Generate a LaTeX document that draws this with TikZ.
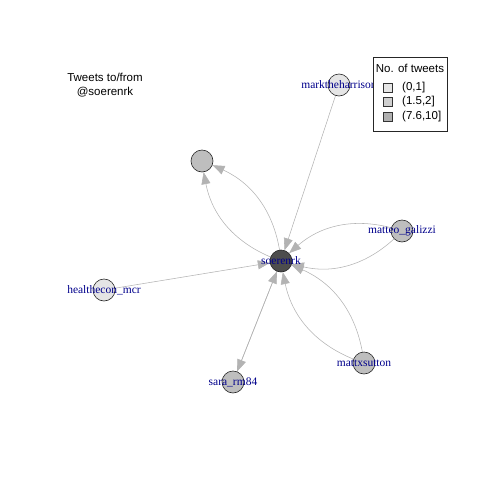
\documentclass[tikz,border=0pt]{standalone}
\usepackage{fontspec}
\setmainfont{Liberation Serif}
\newfontfamily\arialfont{Liberation Sans}
\usetikzlibrary{arrows.meta}
\pgfdeclarelayer{background}
\pgfsetlayers{background,main}
\definecolor{nlight}{HTML}{E5E5E5}
\definecolor{nmid}{HTML}{BEBEBE}
\definecolor{ndark}{HTML}{4D4D4D}
\definecolor{edgegray}{HTML}{B3B3B3}
\definecolor{lbl}{HTML}{00008B}
\definecolor{lg1}{HTML}{E6E6E6}
\definecolor{lg2}{HTML}{CFCFCF}
\definecolor{lg3}{HTML}{B0B0B0}
\tikzset{
  vtx/.style={circle,draw=black!85,line width=0.6pt,minimum size=22pt,inner sep=0pt},
  vlabel/.style={text=lbl,font=\fontsize{11.5}{12}\selectfont,inner sep=0pt},
  edg/.style={draw=edgegray,line width=0.55pt,-{Triangle[length=12pt,width=9pt,fill=edgegray]}},
  sans/.style={font=\arialfont\fontsize{11.5}{12}\selectfont,inner sep=0pt},
  lgsq/.style={draw=black!80,line width=0.7pt,minimum size=8.5pt,inner sep=0pt},
}
\begin{document}
\begin{tikzpicture}[x=1pt,y=-1pt]
\useasboundingbox (0,0) rectangle (480,480);
% vertices
\node[vtx,fill=ndark] (s) at (281,261) {};
\node[vtx,fill=nmid] (tl) at (202,161) {};
\node[vtx,fill=nlight] (mh) at (339,85) {};
\node[vtx,fill=nmid] (mg) at (402,231) {};
\node[vtx,fill=nlight] (hc) at (104,290) {};
\node[vtx,fill=nmid] (sr) at (233,382) {};
\node[vtx,fill=nmid] (ms) at (364,363) {};
% edges
\begin{pgfonlayer}{background}
\draw[edg] (mh.center) -- (s);
\draw[edg] (hc.center) -- (s);
\draw[edg] (s.center) to[bend left=30] (tl);
\draw[edg] (s.center) to[bend right=30] (tl);
\draw[edg] (mg.center) to[bend left=30] (s);
\draw[edg] (mg.center) to[bend right=30] (s);
\draw[edg] (ms.center) to[bend left=30] (s);
\draw[edg] (ms.center) to[bend right=30] (s);
\draw[edg] (s.center) -- (sr);
\draw[edg] (sr.center) -- (s);
\end{pgfonlayer}
% labels
\node[vlabel] (s-l) at (s) {soerenrk};
\node[vlabel] (mh-l) at (mh) {marktheharrison};
\node[vlabel] (mg-l) at (mg) {matteo\_galizzi};
\node[vlabel] (hc-l) at (hc) {healthecon\_mcr};
\node[vlabel] (sr-l) at (sr) {sara\_rm84};
\node[vlabel] (ms-l) at (ms) {mattxsutton};
% title
\node[sans] (t1) at (105,77) {Tweets to/from};
\node[sans] (t2) at (105,92) {@soerenrk};
% legend
\node[draw=black!85,fill=white,line width=0.7pt,minimum width=74pt,minimum height=74pt,inner sep=0pt] (leg) at (410,94) {};
\node[sans] (lt) at (410,68) {No. of tweets};
\node[lgsq,fill=lg1] (q1) at (388,88) {};
\node[lgsq,fill=lg2] (q2) at (388,102) {};
\node[lgsq,fill=lg3] (q3) at (388,117) {};
\node[sans,anchor=west] (l1) at (402,88) {(0,1]};
\node[sans,anchor=west] (l2) at (402,102) {(1.5,2]};
\node[sans,anchor=west] (l3) at (402,117) {(7.6,10]};
\end{tikzpicture}
\end{document}
